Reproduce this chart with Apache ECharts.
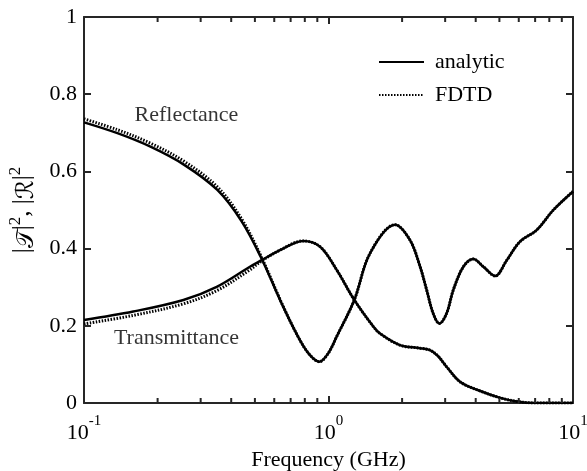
<!DOCTYPE html>
<html>
<head>
<meta charset="utf-8">
<script src="https://cdn.jsdelivr.net/npm/echarts@6/dist/echarts.min.js"></script>
<style>html,body{margin:0;padding:0;background:#fff;}#c{width:587px;height:471px;}</style>
</head>
<body>
<div id="c"></div>
<script>
// ---- data (frequency in GHz, value) ----
const reflAnalytic = [
  [0.10,0.727],[0.137,0.699],[0.187,0.664],[0.257,0.617],[0.351,0.552],[0.44,0.472],
  [0.528,0.379],[0.653,0.249],[0.764,0.163],[0.840,0.124],[0.917,0.107],[0.998,0.129],
  [1.08,0.172],[1.275,0.267],[1.479,0.388],[1.871,0.462],[2.155,0.422],[2.37,0.353],
  [2.52,0.293],[2.68,0.232],[2.84,0.206],[3.04,0.232],[3.24,0.293],[3.56,0.353],
  [3.91,0.373],[4.30,0.353],[4.80,0.329],[5.36,0.370],[6.07,0.418],[7.10,0.448],
  [8.31,0.500],[10.0,0.548]
];
const reflFDTD = [
  [0.10,0.736],[0.137,0.708],[0.187,0.673],[0.257,0.626],[0.351,0.560],[0.44,0.478],
  [0.528,0.382],[0.653,0.250],[0.764,0.163],[0.840,0.124],[0.917,0.107],[0.998,0.129],
  [1.08,0.172],[1.275,0.267],[1.479,0.388],[1.871,0.462],[2.155,0.422],[2.37,0.353],
  [2.52,0.293],[2.68,0.232],[2.84,0.206],[3.04,0.232],[3.24,0.293],[3.56,0.353],
  [3.91,0.373],[4.30,0.353],[4.80,0.329],[5.36,0.370],[6.07,0.418],[7.10,0.448],
  [8.31,0.500],[10.0,0.548]
];
const transAnalytic = [
  [0.10,0.215],[0.159,0.237],[0.255,0.267],[0.349,0.301],[0.477,0.353],[0.533,0.370],
  [0.633,0.396],[0.789,0.420],[0.923,0.405],[1.08,0.345],[1.275,0.267],[1.525,0.198],
  [1.624,0.180],[1.96,0.150],[2.37,0.142],[2.60,0.137],[2.80,0.122],[3.04,0.094],
  [3.45,0.055],[4.1,0.033],[5.0,0.014],[5.89,0.004],[7.0,0.0],[10.0,0.0]
];
const transFDTD = [
  [0.10,0.205],[0.159,0.227],[0.255,0.257],[0.349,0.291],[0.477,0.345],[0.533,0.368],
  [0.633,0.396],[0.789,0.420],[0.923,0.405],[1.08,0.345],[1.275,0.267],[1.525,0.198],
  [1.624,0.180],[1.96,0.150],[2.37,0.142],[2.60,0.137],[2.80,0.122],[3.04,0.094],
  [3.45,0.055],[4.1,0.033],[5.0,0.014],[5.89,0.004],[7.0,0.0],[10.0,0.0]
];
const minorTicks = [0.2,0.3,0.4,0.5,0.6,0.7,0.8,0.9,2,3,4,5,6,7,8,9];
const annotations = [[0.2625,0.746,'Reflectance'],[0.2388,0.168,'Transmittance']];
const yTickLabels = ['0','0.2','0.4','0.6','0.8','1'];

const FONT = 'Liberation Serif';
const AX = '#262626';
const TW = 2;
const chart = echarts.init(document.getElementById('c'), null, {renderer:'canvas'});

function lineSeries(name, data, dotted) {
  return {
    name: name, type: 'line', data: data, showSymbol: false, symbol: 'none',
    smooth: 0.35, silent: true, z: dotted ? 2 : 3,
    itemStyle: {color:'#000'},
    lineStyle: dotted ? {color:'#000', width:3, type:[1.5,1.5]} : {color:'#000', width:2.5, type:'solid'}
  };
}

chart.setOption({
  animation: false,
  grid: {left:84, right:14, top:17, bottom:68, containLabel:false, outerBoundsMode:'none'},
  legend: {
    data: ['analytic','FDTD'], orient:'vertical', left: 373, top: 46,
    itemWidth: 45, itemHeight: 14, itemGap: 11,
    itemStyle: {opacity: 0},
    textStyle: {fontFamily: FONT, fontSize: 22, color:'#000', padding:[0,0,0,6]}
  },
  xAxis: [{
    type:'log', logBase:10, min:0.1, max:10, position:'bottom',
    name:'Frequency (GHz)', nameLocation:'middle', nameGap: 41,
    nameTextStyle:{fontFamily:FONT, fontSize:22, color:'#000'},
    axisLine:{show:true, onZero:false, lineStyle:{color:AX, width:2}},
    axisTick:{show:true, inside:true, length:7, lineStyle:{color:AX, width:TW}},
    splitLine:{show:false}, minorTick:{show:false},
    axisLabel:{
      margin: 11, color:'#000',
      formatter: function(v){ return '{b|10}{s|' + Math.round(Math.log10(v)) + '}'; },
      rich: {
        b:{fontFamily:FONT, fontSize:22, lineHeight:30, verticalAlign:'bottom', color:'#000'},
        s:{fontFamily:FONT, fontSize:15, lineHeight:15, verticalAlign:'top', color:'#000'}
      }
    }
  },{
    type:'log', logBase:10, min:0.1, max:10, position:'top',
    axisLine:{show:true, onZero:false, lineStyle:{color:AX, width:2}},
    axisTick:{show:true, inside:true, length:7, lineStyle:{color:AX, width:TW}},
    axisLabel:{show:false}, splitLine:{show:false}
  }],
  yAxis: [{
    type:'value', min:0, max:1, interval:0.2, position:'left',
    name:'|{t|𝒯}|{s|2}, |{t|ℛ}|{s|2}', nameLocation:'middle', nameRotate:90, nameGap:45,
    nameTextStyle:{
      fontFamily:FONT, fontSize:25, color:'#000',
      rich:{
        t:{fontFamily:'DejaVu Sans', fontSize:24, color:'#000', lineHeight:32, verticalAlign:'bottom'},
        s:{fontFamily:FONT, fontSize:17, color:'#000', lineHeight:17, verticalAlign:'top'}
      }
    },
    axisLine:{show:true, lineStyle:{color:AX, width:2}},
    axisTick:{show:true, inside:true, length:7, lineStyle:{color:AX, width:TW}},
    splitLine:{show:false},
    axisLabel:{margin:7, color:'#000', fontFamily:FONT, fontSize:22,
      formatter: function(v){ return yTickLabels[Math.round(v*5)]; }}
  },{
    type:'value', min:0, max:1, interval:0.2, position:'right',
    axisLine:{show:true, lineStyle:{color:AX, width:2}},
    axisTick:{show:true, inside:true, length:7, lineStyle:{color:AX, width:TW}},
    axisLabel:{show:false}, splitLine:{show:false}
  }],
  series: [
    lineSeries('FDTD', reflFDTD, true),
    lineSeries('FDTD', transFDTD, true),
    lineSeries('analytic', reflAnalytic, false),
    lineSeries('analytic', transAnalytic, false),
    {
      type:'custom', name:'minor', silent:true, xAxisIndex:0, yAxisIndex:0, clip:false, z:5,
      data: minorTicks.map(function(v){ return [v, 0]; }),
      renderItem: function(params, api){
        const x = api.value(0);
        const pb = api.coord([x, 0]);
        const pt = api.coord([x, 1]);
        const st = {stroke: AX, lineWidth: TW};
        return {type:'group', children:[
          {type:'line', shape:{x1:pb[0], y1:pb[1], x2:pb[0], y2:pb[1]-5}, style:st},
          {type:'line', shape:{x1:pt[0], y1:pt[1], x2:pt[0], y2:pt[1]+5}, style:st}
        ]};
      }
    },
    {
      type:'scatter', name:'annot', silent:true, symbolSize:0, z:6,
      data: annotations,
      label:{show:true, position:'inside', color:'#000', fontFamily:FONT, fontSize:22,
        formatter: function(p){ return p.value[2]; }}
    }
  ]
});
</script>
</body>
</html>
